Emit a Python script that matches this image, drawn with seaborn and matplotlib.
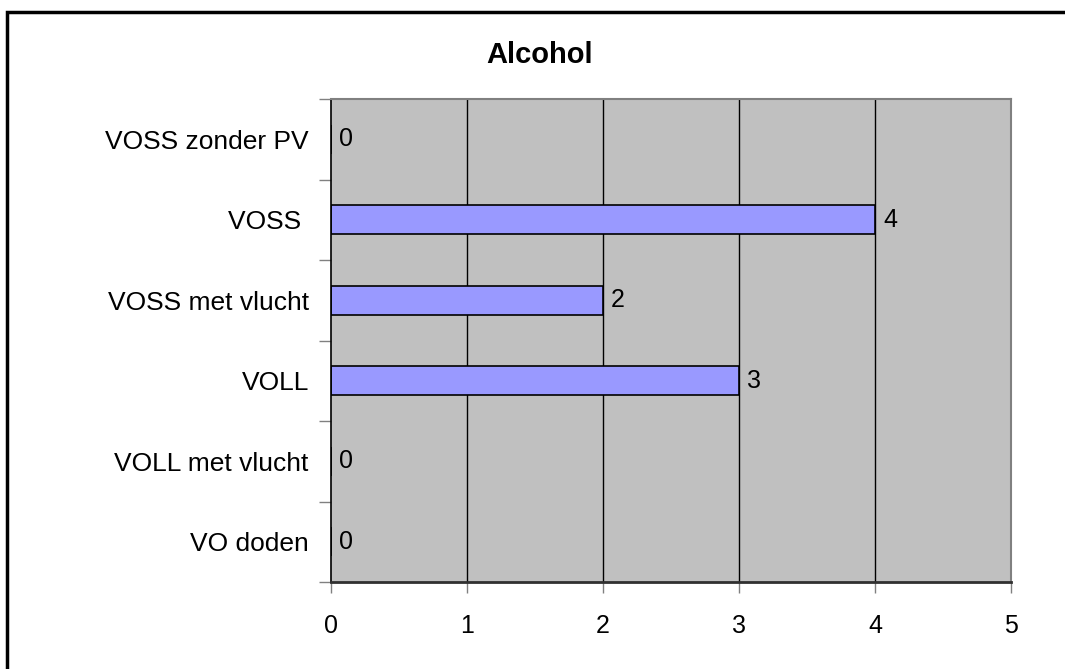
import matplotlib
matplotlib.use("Agg")
import matplotlib.pyplot as plt
import seaborn as sns
import pandas as pd
import numpy as np
from matplotlib.patches import Rectangle

categories = ["VOSS zonder PV", "VOSS ", "VOSS met vlucht", "VOLL", "VOLL met vlucht", "VO doden"]
values = [0, 4, 2, 3, 0, 0]
xticks = [0, 1, 2, 3, 4, 5]
title = "Alcohol"

sns.set_theme(style="white")
plt.rcParams['font.family'] = ['Liberation Sans', 'DejaVu Sans']
plt.rcParams['text.color'] = 'black'
plt.rcParams['xtick.color'] = 'black'
plt.rcParams['ytick.color'] = 'black'

df = pd.DataFrame({"cat": categories, "val": values})

fig = plt.figure(figsize=(10.65, 6.69), dpi=100)
ax = fig.add_axes([331/1065, 1-582/669, (1011-331)/1065, (582-99)/669])
ax.set_facecolor("#C0C0C0")

sns.barplot(data=df, y="cat", x="val", orient="h", order=categories,
            color="#9999FF", edgecolor="black", linewidth=1.2, width=0.36,
            saturation=1, ax=ax, zorder=3)

ax.set_xlim(0, 5)
ax.set_ylim(len(categories) - 0.5, -0.5)
ax.set_xlabel("")
ax.set_ylabel("")

# gridlines
for xv in xticks[1:-1]:
    ax.axvline(xv, color="black", linewidth=1, zorder=1)

ax.set_xticks(xticks)
ax.set_xticklabels([str(v) for v in xticks], fontsize=18, color="black")
ax.tick_params(axis="x", direction="out", length=8, width=1, color="#808080", pad=15, bottom=True)

ax.set_yticks(range(len(categories)))
ax.set_yticklabels(categories, fontsize=19, color="black")
ax.tick_params(axis="y", which="major", length=0, pad=16)
ax.set_yticks(np.arange(-0.5, len(categories)), minor=True)
ax.tick_params(axis="y", which="minor", direction="out", length=9, width=1, color="#808080", left=True)

for s in ["top", "right"]:
    ax.spines[s].set_color("#808080")
    ax.spines[s].set_linewidth(1.5)
ax.spines["left"].set_color("black")
ax.spines["left"].set_linewidth(1.2)
ax.spines["bottom"].set_color("#303030")
ax.spines["bottom"].set_linewidth(2)
for s in ax.spines.values():
    s.set_zorder(5)

# value labels
for i, v in enumerate(values):
    ax.annotate(str(v), xy=(v, i), xytext=(8, 0), textcoords="offset pixels",
                ha="left", va="center", fontsize=18, color="black", zorder=6)

fig.text(540/1065, 1-55/669, title, ha="center", va="center", fontsize=21,
         fontweight="bold", color="black")

# outer frame
fig.patches.append(Rectangle((7/1065, -0.1), 1.2, 1 - 12/669 + 0.1, transform=fig.transFigure,
                             fill=False, edgecolor="black", linewidth=2.5))

fig.savefig("out.png", dpi=100, facecolor="white")
